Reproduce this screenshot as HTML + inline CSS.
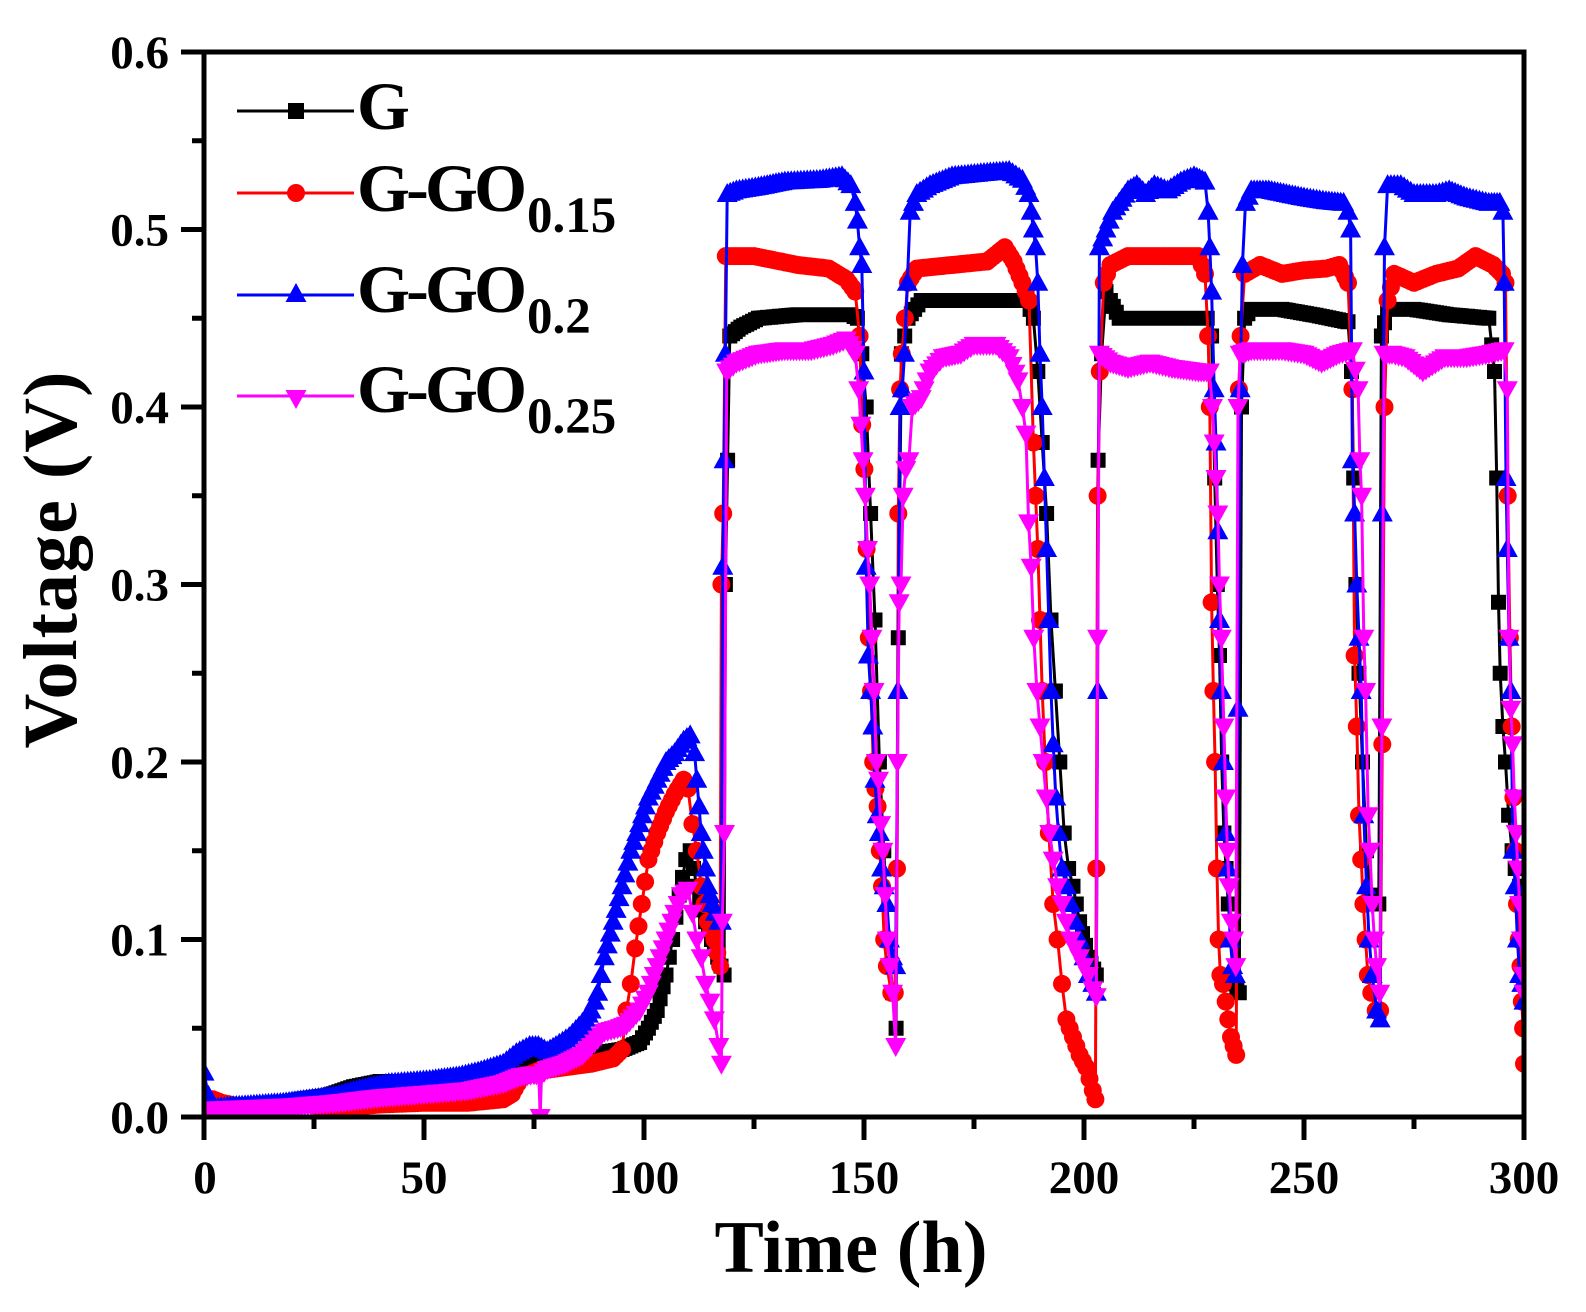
<!DOCTYPE html>
<html><head><meta charset="utf-8">
<style>html,body{margin:0;padding:0;background:#fff;}svg{display:block}</style>
</head>
<body>
<svg id="c" xmlns="http://www.w3.org/2000/svg" width="1586" height="1312" viewBox="0 0 1586 1312">
<rect width="1586" height="1312" fill="#fff"/>
<defs><clipPath id="pc"><rect x="204" y="52" width="1320" height="1065"/></clipPath></defs>
<g id="data" clip-path="url(#pc)"></g>

<!-- frame -->
<g stroke="#000" stroke-width="5" fill="none" stroke-linecap="square">
<path d="M204,52 H1524 V1117 H204 Z"/>
</g>
<g stroke="#000" stroke-width="5" fill="none">
<!-- y major -->
<line x1="181" y1="1117" x2="204" y2="1117"/>
<line x1="181" y1="939.5" x2="204" y2="939.5"/>
<line x1="181" y1="762" x2="204" y2="762"/>
<line x1="181" y1="584.5" x2="204" y2="584.5"/>
<line x1="181" y1="407" x2="204" y2="407"/>
<line x1="181" y1="229.5" x2="204" y2="229.5"/>
<line x1="181" y1="52" x2="204" y2="52"/>
<!-- y minor -->
<line x1="192" y1="1028.25" x2="204" y2="1028.25"/>
<line x1="192" y1="850.75" x2="204" y2="850.75"/>
<line x1="192" y1="673.25" x2="204" y2="673.25"/>
<line x1="192" y1="495.75" x2="204" y2="495.75"/>
<line x1="192" y1="318.25" x2="204" y2="318.25"/>
<line x1="192" y1="140.75" x2="204" y2="140.75"/>
<!-- x major -->
<line x1="204" y1="1117" x2="204" y2="1140"/>
<line x1="424" y1="1117" x2="424" y2="1140"/>
<line x1="644" y1="1117" x2="644" y2="1140"/>
<line x1="864" y1="1117" x2="864" y2="1140"/>
<line x1="1084" y1="1117" x2="1084" y2="1140"/>
<line x1="1304" y1="1117" x2="1304" y2="1140"/>
<line x1="1524" y1="1117" x2="1524" y2="1140"/>
<!-- x minor -->
<line x1="314" y1="1117" x2="314" y2="1129"/>
<line x1="534" y1="1117" x2="534" y2="1129"/>
<line x1="754" y1="1117" x2="754" y2="1129"/>
<line x1="974" y1="1117" x2="974" y2="1129"/>
<line x1="1194" y1="1117" x2="1194" y2="1129"/>
<line x1="1414" y1="1117" x2="1414" y2="1129"/>
</g>

<g font-family="'Liberation Serif', serif" font-weight="bold" fill="#000">
<!-- y tick labels -->
<g font-size="47" text-anchor="end">
<text x="169" y="1133">0.0</text>
<text x="169" y="955.5">0.1</text>
<text x="169" y="778">0.2</text>
<text x="169" y="600.5">0.3</text>
<text x="169" y="423">0.4</text>
<text x="169" y="245.5">0.5</text>
<text x="169" y="68">0.6</text>
</g>
<!-- x tick labels -->
<g font-size="47" text-anchor="middle">
<text x="205" y="1193">0</text>
<text x="424" y="1193">50</text>
<text x="644" y="1193">100</text>
<text x="864" y="1193">150</text>
<text x="1084" y="1193">200</text>
<text x="1304" y="1193">250</text>
<text x="1524" y="1193">300</text>
</g>
<!-- axis titles -->
<text x="851" y="1272" font-size="74" text-anchor="middle" textLength="273" lengthAdjust="spacing">Time (h)</text>
<text transform="translate(76,560) rotate(-90)" font-size="76" text-anchor="middle" textLength="377" lengthAdjust="spacing">Voltage (V)</text>

<!-- legend -->
<line x1="237" y1="111" x2="354" y2="111" stroke="#000" stroke-width="3"/>
<rect x="288" y="103" width="16" height="16" fill="#000"/>
<text x="357" y="129" font-size="68">G</text>

<line x1="237" y1="193" x2="354" y2="193" stroke="#ff0000" stroke-width="3"/>
<circle cx="296" cy="193" r="9" fill="#ff0000"/>
<text x="357" y="211" font-size="68" textLength="170" lengthAdjust="spacing">G-GO</text>
<text x="527" y="232" font-size="51">0.15</text>

<line x1="237" y1="295" x2="354" y2="295" stroke="#0000ff" stroke-width="3"/>
<polygon points="296,283 306.5,302 285.5,302" fill="#0000ff"/>
<text x="357" y="312" font-size="68" textLength="170" lengthAdjust="spacing">G-GO</text>
<text x="527" y="333" font-size="51">0.2</text>

<line x1="237" y1="396" x2="354" y2="396" stroke="#ff00ff" stroke-width="3"/>
<polygon points="285.5,390 306.5,390 296,409" fill="#ff00ff"/>
<text x="357" y="412" font-size="68" textLength="170" lengthAdjust="spacing">G-GO</text>
<text x="527" y="433" font-size="51">0.25</text>
</g>
</svg>

<script>
(function(){
var NS="http://www.w3.org/2000/svg";
function X(t){return 204+t*4.4;}
function Y(v){return 1117-v*1775;}

var G=[[0,0.003],[5,0.004],[15,0.006],[22,0.01],[28,0.012],[34,0.017],[40,0.02],[45,0.02],[55,0.021],[65,0.025],[72,0.03],[80,0.032],[87,0.035],[95,0.038],[99,0.042],[101,0.05],[103,0.06],[105,0.08],[106.5,0.1],[108,0.125],[109.5,0.145],[110.5,0.15],[112,0.13],[114,0.11],[116,0.095],[117.5,0.085],[118.2,0.08],[118.5,0.3],[119,0.37],[119.5,0.44],[122,0.445],[126,0.45],[135,0.452],[147,0.452],[148.5,0.45],[149.5,0.43],[150.5,0.40],[151.5,0.34],[152.5,0.28],[153.5,0.2],[154.5,0.15],[155.5,0.1],[156.5,0.07],[157.3,0.05],[157.8,0.27],[158.5,0.43],[160,0.45],[163,0.46],[187,0.46],[188.5,0.45],[189.5,0.42],[190.5,0.38],[191.5,0.34],[192.5,0.28],[193.5,0.24],[194.5,0.2],[195.5,0.16],[196.5,0.14],[197.5,0.13],[199,0.11],[201,0.09],[202.8,0.08],[203.2,0.37],[204,0.43],[205,0.465],[206,0.46],[208,0.45],[228,0.45],[229,0.44],[229.7,0.36],[230.3,0.3],[230.8,0.26],[231.3,0.2],[231.8,0.16],[232.3,0.14],[232.8,0.12],[233.5,0.1],[234.2,0.075],[235.3,0.07],[235.8,0.4],[236.5,0.45],[238,0.455],[245,0.455],[252,0.452],[260,0.448],[260.8,0.42],[261.3,0.36],[261.8,0.3],[262.5,0.25],[263.3,0.2],[264.2,0.15],[265,0.125],[266,0.12],[267,0.12],[267.6,0.44],[269,0.455],[275,0.455],[283,0.452],[292,0.45],[293.3,0.42],[293.8,0.36],[294.2,0.29],[294.6,0.25],[295.2,0.22],[295.8,0.2],[296.5,0.17],[297.3,0.15],[298,0.14],[299,0.13],[300,0.12]];

var R=[[0,0.006],[2,0.01],[4,0.008],[8,0.006],[15,0.007],[22,0.008],[26,0.006],[30,0.005],[40,0.007],[50,0.008],[60,0.008],[68,0.01],[70,0.013],[72,0.022],[76,0.026],[82,0.028],[88,0.03],[93,0.033],[95,0.038],[96,0.06],[97,0.075],[98,0.095],[99.5,0.12],[101,0.145],[103,0.16],[105,0.172],[107,0.182],[109,0.19],[110,0.185],[111,0.165],[112,0.15],[113,0.13],[114.5,0.11],[116,0.1],[117.3,0.085],[117.6,0.3],[118,0.34],[118.6,0.485],[125,0.485],[135,0.48],[142,0.478],[146,0.472],[148,0.465],[149,0.44],[149.6,0.39],[150.1,0.365],[150.6,0.32],[151.1,0.27],[151.6,0.24],[152.1,0.2],[152.6,0.185],[153.1,0.175],[153.6,0.15],[154.1,0.13],[154.6,0.1],[155.2,0.085],[156.2,0.07],[157,0.07],[157.5,0.14],[157.8,0.34],[158.2,0.41],[158.6,0.43],[160,0.47],[162,0.478],[170,0.48],[178,0.482],[182,0.49],[184,0.482],[186,0.47],[187.5,0.46],[188.5,0.38],[189,0.35],[189.5,0.32],[190,0.28],[190.5,0.24],[191.2,0.2],[192,0.16],[193,0.12],[194,0.1],[195,0.075],[196,0.055],[197.5,0.045],[199,0.035],[200.5,0.028],[202,0.015],[202.6,0.01],[202.8,0.14],[203.1,0.35],[203.6,0.42],[204.5,0.47],[206,0.48],[210,0.485],[220,0.485],[226,0.485],[227.5,0.475],[228.2,0.44],[228.6,0.4],[229,0.29],[229.4,0.24],[229.8,0.2],[230.2,0.14],[230.6,0.1],[231,0.08],[231.6,0.075],[232.2,0.065],[232.8,0.055],[233.4,0.045],[234,0.04],[234.6,0.035],[235.2,0.41],[235.6,0.44],[236.5,0.475],[240,0.48],[245,0.475],[250,0.477],[255,0.478],[258,0.48],[260,0.47],[261,0.41],[261.5,0.26],[262,0.22],[262.5,0.17],[263,0.145],[263.5,0.12],[264,0.1],[264.5,0.08],[265.3,0.07],[266.3,0.06],[267.3,0.06],[267.8,0.21],[268.3,0.4],[269,0.46],[270.5,0.475],[275,0.47],[280,0.475],[285,0.478],[289,0.485],[293,0.48],[295,0.475],[295.8,0.47],[296.3,0.35],[296.8,0.27],[297.2,0.22],[297.6,0.18],[298,0.15],[298.4,0.12],[298.8,0.1],[299.2,0.085],[299.5,0.065],[299.8,0.05],[300,0.03]];

var B=[[0,0.025],[1,0.012],[2.5,0.005],[6,0.006],[12,0.007],[18,0.008],[24,0.01],[30,0.012],[36,0.016],[42,0.019],[52,0.021],[58,0.023],[63,0.026],[68,0.03],[71,0.036],[74,0.04],[76,0.04],[78,0.037],[80,0.04],[83,0.045],[86,0.053],[88,0.06],[89.5,0.07],[91,0.09],[93,0.11],[95,0.13],[97,0.15],[99,0.165],[101,0.18],[103,0.19],[105,0.2],[107,0.205],[109,0.212],[110.5,0.215],[111.5,0.205],[112,0.19],[112.5,0.175],[113,0.16],[113.5,0.15],[114,0.14],[114.5,0.13],[115,0.125],[115.5,0.12],[116.2,0.115],[117,0.11],[117.6,0.11],[117.9,0.31],[118.2,0.37],[118.5,0.43],[118.9,0.52],[121,0.522],[126,0.524],[132,0.527],[140,0.528],[145,0.53],[147,0.525],[148,0.515],[148.5,0.505],[149,0.49],[149.5,0.48],[150,0.42],[150.5,0.31],[151,0.26],[151.5,0.24],[152,0.22],[152.5,0.19],[153,0.17],[153.5,0.16],[154,0.14],[154.6,0.13],[155.2,0.12],[155.8,0.1],[156.5,0.09],[157.2,0.085],[157.7,0.24],[158.2,0.4],[158.7,0.41],[159.2,0.43],[160.5,0.51],[162,0.52],[165,0.525],[170,0.53],[178,0.532],[183,0.533],[186,0.528],[187.5,0.52],[188,0.51],[188.5,0.5],[189,0.49],[189.5,0.47],[190,0.43],[190.5,0.4],[191,0.36],[191.5,0.32],[192,0.28],[192.5,0.24],[193,0.21],[193.6,0.18],[194.2,0.16],[195,0.14],[196,0.13],[197,0.12],[198,0.11],[199,0.1],[200,0.09],[201,0.08],[202,0.075],[202.8,0.07],[203.1,0.24],[203.5,0.49],[205,0.5],[206.5,0.51],[208,0.515],[210,0.522],[212,0.525],[214,0.52],[216,0.525],[219,0.522],[222,0.527],[225,0.53],[227.5,0.527],[228.2,0.51],[228.6,0.49],[229,0.465],[229.6,0.41],[230,0.38],[230.4,0.33],[230.8,0.28],[231.2,0.24],[231.7,0.2],[232.2,0.16],[232.7,0.14],[233.2,0.1],[233.8,0.085],[234.4,0.08],[235,0.23],[235.5,0.41],[236,0.48],[236.7,0.515],[238,0.522],[242,0.522],[246,0.52],[250,0.518],[255,0.516],[259,0.515],[260,0.51],[260.6,0.5],[261,0.37],[261.5,0.34],[262,0.3],[262.5,0.27],[263,0.24],[263.6,0.17],[264.2,0.13],[264.8,0.1],[265.5,0.08],[266.5,0.06],[267.3,0.055],[267.8,0.34],[268.3,0.49],[269,0.525],[272,0.525],[275,0.52],[280,0.52],[283,0.522],[287,0.518],[292,0.515],[294.5,0.515],[295.2,0.51],[295.5,0.47],[295.9,0.36],[296.2,0.32],[296.6,0.27],[297,0.24],[297.5,0.15],[298,0.13],[298.5,0.1],[299,0.08],[299.5,0.075],[300,0.065]];

var M=[[0,0.004],[10,0.005],[20,0.006],[30,0.008],[40,0.011],[50,0.013],[60,0.015],[68,0.019],[72,0.023],[75,0.024],[76.1,0.024],[76.4,0.0],[76.7,0.024],[78,0.027],[82,0.03],[86,0.035],[88,0.04],[91,0.048],[94,0.05],[96,0.052],[99,0.06],[101,0.07],[103,0.085],[105,0.1],[107,0.115],[108.5,0.125],[110,0.128],[111,0.115],[112,0.1],[113,0.09],[114,0.075],[115,0.065],[116,0.055],[117,0.04],[117.6,0.03],[117.8,0.11],[118.3,0.16],[118.8,0.42],[121,0.425],[126,0.43],[132,0.432],[138,0.432],[143,0.435],[146,0.438],[148,0.43],[148.8,0.41],[149.3,0.39],[149.8,0.37],[150.3,0.35],[150.8,0.32],[151.3,0.3],[151.8,0.27],[152.3,0.24],[152.8,0.2],[153.3,0.19],[153.8,0.165],[154.3,0.15],[154.8,0.125],[155.3,0.1],[155.9,0.085],[156.5,0.07],[157.2,0.04],[157.6,0.2],[158,0.29],[158.4,0.3],[158.9,0.35],[159.5,0.365],[160.2,0.37],[161,0.4],[163,0.405],[165,0.42],[168,0.428],[172,0.43],[175,0.435],[180,0.435],[183,0.428],[185,0.415],[186,0.4],[186.8,0.385],[187.4,0.335],[188,0.31],[188.6,0.27],[189.3,0.24],[190,0.22],[190.7,0.2],[191.4,0.18],[192.2,0.16],[193,0.145],[194,0.13],[195,0.12],[196,0.11],[197,0.1],[198,0.095],[199,0.09],[200,0.085],[201,0.08],[202,0.072],[202.8,0.068],[203.1,0.27],[203.5,0.43],[206,0.425],[210,0.422],[215,0.425],[220,0.422],[226,0.42],[228.5,0.42],[229.2,0.4],[229.6,0.38],[230,0.36],[230.4,0.34],[230.8,0.3],[231.2,0.27],[231.8,0.22],[232.2,0.18],[232.6,0.15],[233,0.13],[233.5,0.11],[234,0.1],[234.5,0.085],[235,0.4],[235.5,0.43],[238,0.432],[245,0.432],[250,0.43],[254,0.425],[258,0.43],[261,0.432],[262.3,0.41],[262.7,0.37],[263.1,0.35],[263.6,0.27],[264,0.24],[264.6,0.17],[265,0.15],[265.5,0.12],[266,0.1],[266.5,0.085],[267.2,0.07],[267.7,0.22],[268.2,0.43],[270,0.43],[273,0.428],[277,0.42],[282,0.428],[287,0.428],[292,0.43],[295.5,0.432],[296.2,0.41],[296.6,0.27],[297,0.23],[297.4,0.21],[297.8,0.18],[298.2,0.16],[298.6,0.14],[299,0.12],[299.4,0.1],[299.8,0.08],[300,0.07]];

function resample(p,step){
  var o=[];
  for(var i=0;i<p.length;i++){
    o.push(p[i]);
    if(i<p.length-1){
      var dt=p[i+1][0]-p[i][0];
      if(dt>step){
        var n=Math.round(dt/step);
        for(var j=1;j<n;j++){
          var f=j/n;
          o.push([p[i][0]+dt*f,p[i][1]+(p[i+1][1]-p[i][1])*f]);
        }
      }
    }
  }
  return o;
}

var g=document.getElementById("data");
function series(p,color,shape){
  var pts=resample(p,0.7);
  var s="";
  for(var i=0;i<pts.length;i++){s+=X(pts[i][0]).toFixed(1)+","+Y(pts[i][1]).toFixed(1)+" ";}
  var pl=document.createElementNS(NS,"polyline");
  pl.setAttribute("points",s);
  pl.setAttribute("fill","none");
  pl.setAttribute("stroke",color);
  pl.setAttribute("stroke-width","3");
  pl.setAttribute("stroke-linejoin","round");
  g.appendChild(pl);
  var d="";
  for(var i=0;i<pts.length;i++){
    var x=X(pts[i][0]), y=Y(pts[i][1]);
    if(shape=="sq"){
      d+="M"+(x-7.5).toFixed(1)+","+(y-7.5).toFixed(1)+"h15v15h-15z";
    } else if(shape=="up"){
      d+="M"+x.toFixed(1)+","+(y-11).toFixed(1)+"L"+(x+10.5).toFixed(1)+","+(y+8).toFixed(1)+"L"+(x-10.5).toFixed(1)+","+(y+8).toFixed(1)+"z";
    } else if(shape=="dn"){
      d+="M"+(x-10.5).toFixed(1)+","+(y-8).toFixed(1)+"L"+(x+10.5).toFixed(1)+","+(y-8).toFixed(1)+"L"+x.toFixed(1)+","+(y+11).toFixed(1)+"z";
    } else {
      d+="M"+(x-9).toFixed(1)+","+y.toFixed(1)+"a9,9 0 1,0 18,0a9,9 0 1,0 -18,0z";
    }
  }
  var pa=document.createElementNS(NS,"path");
  pa.setAttribute("d",d);
  pa.setAttribute("fill",color);
  g.appendChild(pa);
}
series(G,"#000000","sq");
series(R,"#ff0000","ci");
series(B,"#0000ff","up");
series(M,"#ff00ff","dn");
})();
</script>
</body></html>
